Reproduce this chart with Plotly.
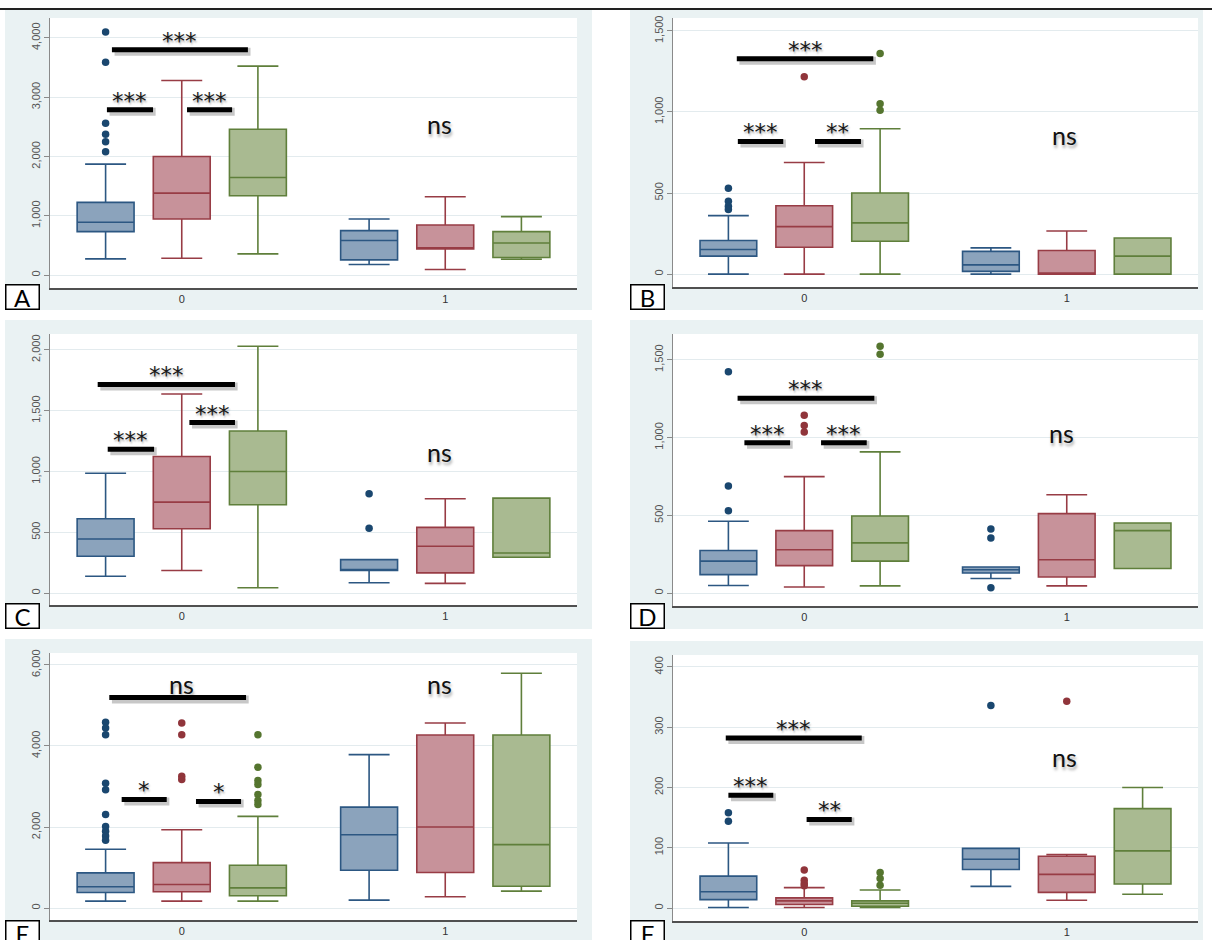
import plotly.graph_objects as go

W, H = 1212, 940

GROUP_LABELS = ["0", "1"]
SERIES_NAMES = ["Group blue", "Group red", "Group green"]

# order in every list: [grp0 blue, grp0 red, grp0 green, grp1 blue, grp1 red, grp1 green]
# ---------------- Panel A ----------------
A_lo = [274, 286, 358, 180, 95, 269]
A_q1 = [734, 946, 1339, 257, 443, 297]
A_med = [891, 1383, 1647, 583, 460, 543]
A_q3 = [1227, 2000, 2459, 751, 846, 734]
A_hi = [1871, 3282, 3524, 946, 1322, 986]
A_out = [[4101, 3591, 2560, 2375, 2247, 2079], [], [], [], [], []]
A_ticks = [0, 1000, 2000, 3000, 4000]
A_bars = [(-0.265, 0.251, 3800, "***"), (-0.284, -0.109, 2790, "***"), (0.020, 0.191, 2790, "***")]
A_ns = [(0.98, 2540, "ns")]

# ---------------- Panel B ----------------
B_lo = [0, 0, 0, 0, 0, 0]
B_q1 = [111, 166, 203, 17, 0, 0]
B_med = [152, 293, 316, 57, 2, 111]
B_q3 = [207, 422, 500, 140, 146, 223]
B_hi = [361, 688, 897, 162, 266, 223]
B_out = [[529, 449, 418, 398], [1217], [1360, 1051, 1010], [], [], []]
B_ticks = [0, 500, 1000, 1500]
B_bars = [(-0.257, 0.263, 1328, "***"), (-0.253, -0.080, 818, "***"), (0.041, 0.216, 818, "**")]
B_ns = [(0.99, 860, "ns")]

# ---------------- Panel C ----------------
C_lo = [139, 186, 44, 85, 80, 295]
C_q1 = [303, 530, 727, 186, 167, 295]
C_med = [445, 748, 1000, 195, 385, 330]
C_q3 = [612, 1123, 1333, 276, 541, 781]
C_hi = [986, 1637, 2030, 276, 776, 781]
C_out = [[], [], [], [817, 533], [], []]
C_ticks = [0, 500, 1000, 1500, 2000]
C_bars = [(-0.319, 0.202, 1716, "***"), (-0.281, -0.105, 1183, "***"), (0.029, 0.202, 1402, "***")]
C_ns = [(0.98, 1164, "ns")]

# ---------------- Panel D ----------------
D_lo = [49, 40, 47, 94, 47, 158]
D_q1 = [119, 177, 206, 130, 104, 158]
D_med = [206, 279, 323, 150, 215, 402]
D_q3 = [274, 402, 496, 168, 511, 451]
D_hi = [462, 749, 908, 168, 632, 451]
D_out = [[1423, 689, 530], [1143, 1077, 1036], [1587, 1536], [413, 355, 34], [], []]
D_ticks = [0, 500, 1000, 1500]
D_bars = [(-0.254, 0.267, 1253, "***"), (-0.228, -0.054, 966, "***"), (0.064, 0.238, 966, "***")]
D_ns = [(0.98, 1027, "ns")]

# ---------------- Panel E ----------------
E_lo = [172, 172, 172, 197, 279, 418]
E_q1 = [385, 402, 303, 934, 877, 541]
E_med = [525, 582, 500, 1811, 2000, 1566]
E_q3 = [869, 1123, 1057, 2492, 4271, 4271]
E_hi = [1451, 1934, 2262, 3787, 4566, 5795]
E_out = [[4582, 4443, 4279, 3082, 2918, 2311, 2016, 1893, 1779, 1672],
         [4566, 4279, 3254, 3172],
         [4279, 3475, 3148, 3049, 2803, 2656, 2557], [], [], []]
E_ticks = [0, 2000, 4000, 6000]
E_bars = [(-0.275, 0.244, 5196, ""), (-0.228, -0.057, 2680, "*"), (0.054, 0.225, 2631, "*")]
E_ns = [(0.0, 5530, "ns"), (0.98, 5530, "ns")]

# ---------------- Panel F ----------------
F_lo = [1, 1, 1, 36, 13, 23]
F_q1 = [14, 6, 3, 64, 26, 40]
F_med = [27, 12, 8, 81, 56, 95]
F_q3 = [53, 17, 12, 99, 86, 165]
F_hi = [108, 34, 30, 99, 89, 200]
F_out = [[158, 144], [63, 46, 41, 37], [59, 49, 38], [336], [343], []]
F_ticks = [0, 100, 200, 300, 400]
F_bars = [(-0.299, 0.219, 282, "***"), (-0.289, -0.118, 187, "***"), (0.009, 0.181, 147, "**")]
F_ns = [(0.99, 250, "ns")]

# ---------------- layout / style ----------------
LINE_COLORS = ["#2c5782", "#983c45", "#5f7f3b"]
FILL_COLORS = ["#8ba3bc", "#c7929a", "#a9ba91"]
DOT_COLORS = ["#1a476f", "#90353b", "#55752f"]
SLOT = 0.289
BOX_W = 0.216
PANEL_BG = "#eaf2f3"
GRID = "#e3ebee"

# panel geometry in pixels: plot area (left, top, right, bottom), y range, background, letter box
panels = [
    dict(L="A", lo=A_lo, q1=A_q1, med=A_med, q3=A_q3, hi=A_hi, out=A_out, ticks=A_ticks, bars=A_bars, ns=A_ns,
         area=(50, 15, 577, 286), yr=(-218, 4336), bg=(5, 7, 592, 308), let=(5, 308)),
    dict(L="B", lo=B_lo, q1=B_q1, med=B_med, q3=B_q3, hi=B_hi, out=B_out, ticks=B_ticks, bars=B_bars, ns=B_ns,
         area=(673, 15, 1198, 285), yr=(-80, 1580), bg=(630, 7, 1203, 308), let=(630, 308)),
    dict(L="C", lo=C_lo, q1=C_q1, med=C_med, q3=C_q3, hi=C_hi, out=C_out, ticks=C_ticks, bars=C_bars, ns=C_ns,
         area=(50, 332, 577, 604), yr=(-98, 2131), bg=(5, 318, 592, 628), let=(5, 628)),
    dict(L="D", lo=D_lo, q1=D_q1, med=D_med, q3=D_q3, hi=D_hi, out=D_out, ticks=D_ticks, bars=D_bars, ns=D_ns,
         area=(673, 332, 1198, 605), yr=(-83, 1666), bg=(630, 318, 1203, 628), let=(630, 628)),
    dict(L="E", lo=E_lo, q1=E_q1, med=E_med, q3=E_q3, hi=E_hi, out=E_out, ticks=E_ticks, bars=E_bars, ns=E_ns,
         area=(50, 652, 577, 920), yr=(-295, 6295), bg=(5, 638, 592, 945), let=(5, 946)),
    dict(L="F", lo=F_lo, q1=F_q1, med=F_med, q3=F_q3, hi=F_hi, out=F_out, ticks=F_ticks, bars=F_bars, ns=F_ns,
         area=(673, 654, 1198, 921), yr=(-21.5, 420), bg=(630, 640, 1203, 945), let=(630, 946)),
]


def px(x):
    return x / W


def py(y):
    return 1 - y / H


fig = go.Figure()
layout = dict(width=W, height=H, margin=dict(l=0, r=0, t=0, b=0),
              paper_bgcolor="white", plot_bgcolor="white", showlegend=False,
              font=dict(family="Liberation Sans, Arial, sans-serif"))
bg_shapes = []
area_shapes = []
shapes = []
annotations = []

for i, p in enumerate(panels):
    k = i + 1
    xa, ya = f"x{k}", f"y{k}"
    xname = "xaxis" if k == 1 else f"xaxis{k}"
    yname = "yaxis" if k == 1 else f"yaxis{k}"
    l, t, r, b = p["area"]

    for s in range(3):
        idx = [g * 3 + s for g in range(2)]
        pos = [g + (s - 1) * SLOT for g in range(2)]
        fig.add_trace(go.Box(
            x=pos, q1=[p["q1"][j] for j in idx], median=[p["med"][j] for j in idx],
            q3=[p["q3"][j] for j in idx], lowerfence=[p["lo"][j] for j in idx],
            upperfence=[p["hi"][j] for j in idx], width=BOX_W, whiskerwidth=0.72,
            fillcolor=FILL_COLORS[s], line=dict(color=LINE_COLORS[s], width=1.6),
            boxpoints=False, orientation="v", name=SERIES_NAMES[s],
            xaxis=xa, yaxis=ya, hoverinfo="skip"))
        ox, oy = [], []
        for g in range(2):
            for v in p["out"][g * 3 + s]:
                ox.append(g + (s - 1) * SLOT)
                oy.append(v)
        if oy:
            fig.add_trace(go.Scatter(x=ox, y=oy, mode="markers",
                                     marker=dict(color=DOT_COLORS[s], size=7.5),
                                     xaxis=xa, yaxis=ya, hoverinfo="skip"))

    layout[xname] = dict(domain=[px(l), px(r)], anchor=ya, range=[-0.5, 1.5],
                         tickvals=[0, 1], ticktext=GROUP_LABELS, showgrid=False,
                         zeroline=False, showline=True, linecolor="#505050", linewidth=2,
                         ticks="", tickfont=dict(size=11, color="#333333"), fixedrange=True)
    layout[yname] = dict(domain=[py(b), py(t)], anchor=xa, range=list(p["yr"]),
                         tickvals=p["ticks"], tickformat=",", tickangle=-90,
                         ticks="outside", ticklen=5, tickcolor="#8a8a8a",
                         showline=True, linecolor="#8a8a8a", linewidth=1,
                         showgrid=True, gridcolor=GRID, gridwidth=1, zeroline=False,
                         tickfont=dict(size=11, color="#555555"), fixedrange=True)

    bx0, by0, bx1, by1 = p["bg"]
    bg_shapes.append(dict(type="rect", xref="paper", yref="paper", x0=px(bx0), x1=px(bx1),
                          y0=py(by1), y1=py(by0), fillcolor=PANEL_BG, line=dict(width=0), layer="below"))
    area_shapes.append(dict(type="rect", xref="paper", yref="paper", x0=px(l), x1=px(r),
                            y0=py(b), y1=py(t), fillcolor="white", line=dict(width=0), layer="below"))

    for (x0, x1, yv, lab) in p["bars"]:
        shapes.append(dict(type="line", xref=xa, yref=ya, x0=x0 + 0.01, x1=x1 + 0.01,
                           ysizemode="pixel", yanchor=yv, y0=-2, y1=-2,
                           line=dict(color="rgba(0,0,0,0.22)", width=8), layer="above"))
        shapes.append(dict(type="line", xref=xa, yref=ya, x0=x0, x1=x1, y0=yv, y1=yv,
                           line=dict(color="black", width=5), layer="above"))
        if lab:
            annotations.append(dict(xref=xa, yref=ya, x=(x0 + x1) / 2, y=yv, text=lab,
                                    showarrow=False, yanchor="bottom", xanchor="center", yshift=-6,
                                    font=dict(size=23, color="#1a1a1a", family="DejaVu Sans",
                                              shadow="1px 2px 2px rgba(0,0,0,0.3)")))
    for (xv, yv, lab) in p["ns"]:
        annotations.append(dict(xref=xa, yref=ya, x=xv, y=yv, text=lab, showarrow=False,
                                xanchor="center", yanchor="middle",
                                font=dict(size=25, color="#111111", family="Lato, Open Sans, sans-serif",
                                          shadow="1px 3px 3px rgba(0,0,0,0.35)")))

    lx, ly = p["let"]
    annotations.append(dict(xref="paper", yref="paper", x=px(lx), y=py(ly), text=p["L"],
                            showarrow=False, xanchor="left", yanchor="bottom",
                            width=30, height=21, borderpad=1, bordercolor="black", borderwidth=1.5,
                            bgcolor="white", font=dict(size=24, color="black", family="Lato, sans-serif")))

shapes.append(dict(type="line", xref="paper", yref="paper", x0=0, x1=1, y0=py(6), y1=py(6),
                   line=dict(color="#222222", width=2)))

layout["shapes"] = bg_shapes + area_shapes + shapes
layout["annotations"] = annotations
fig.update_layout(**layout)
fig.write_html("out.html", config={"displayModeBar": False},
               post_script="document.body.style.margin='0';document.body.style.overflow='hidden';")
